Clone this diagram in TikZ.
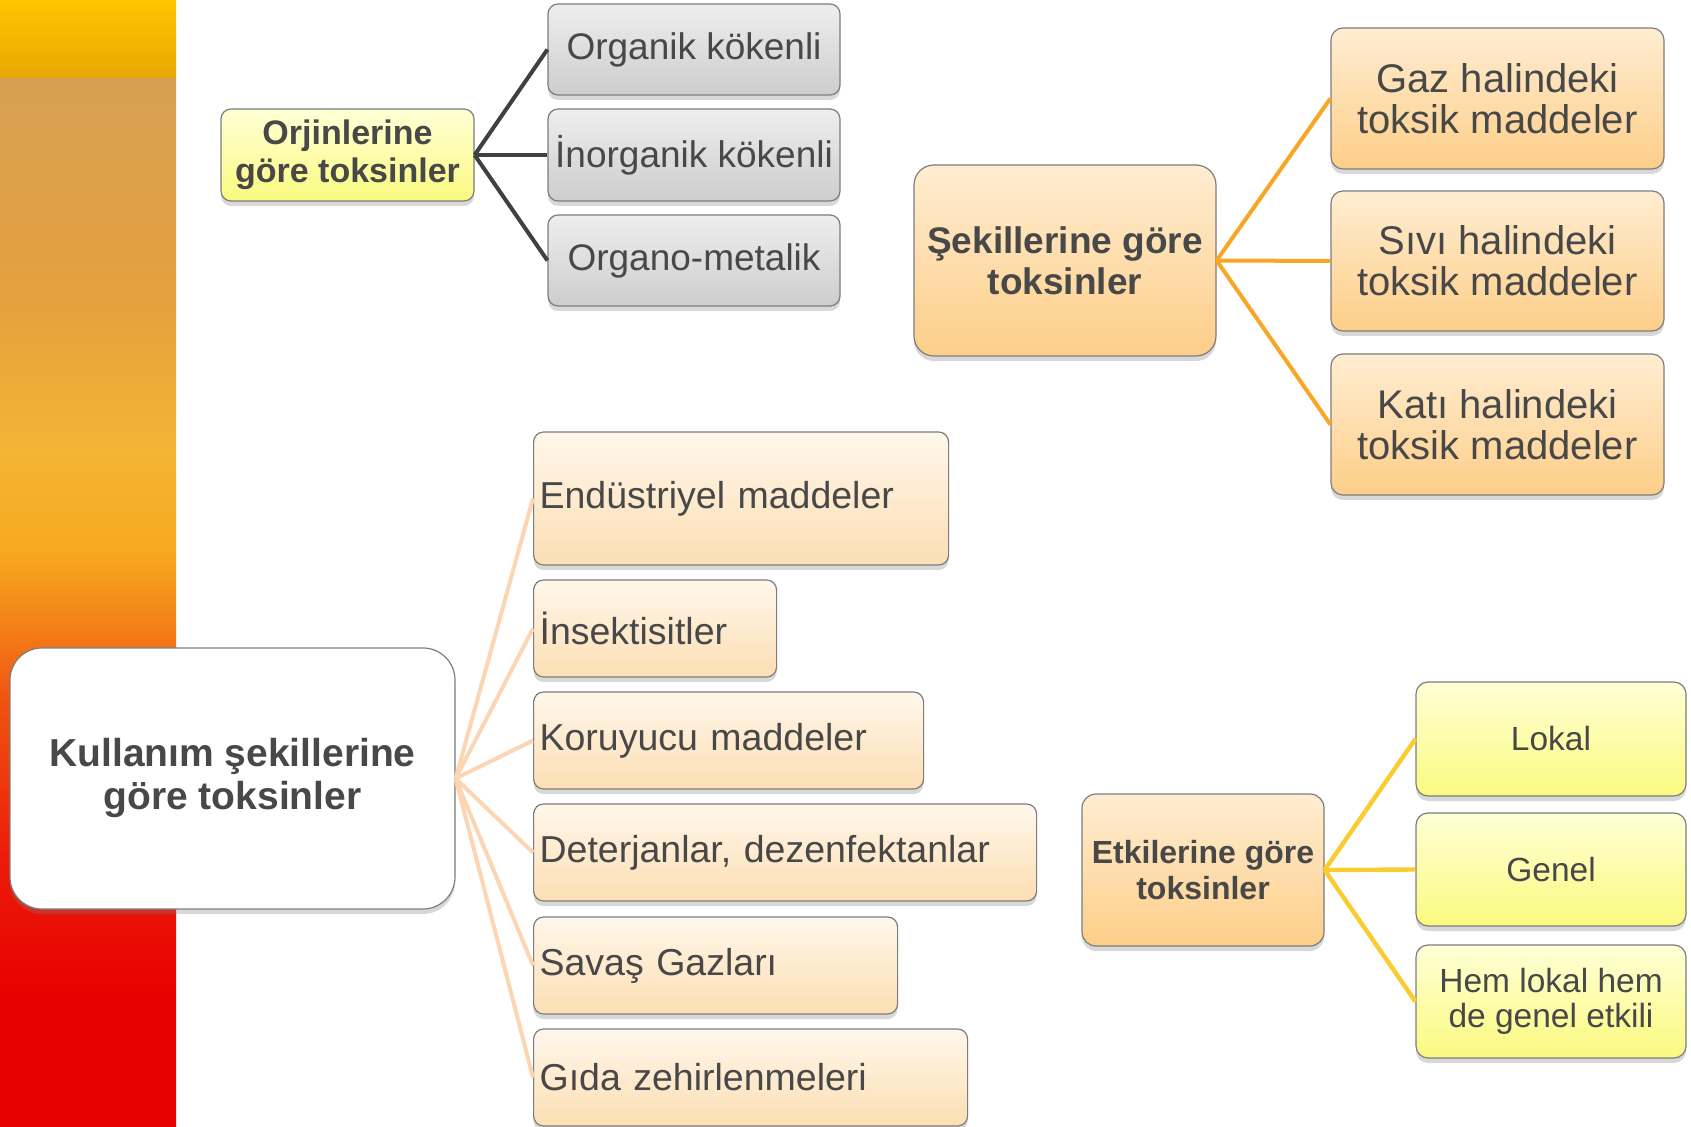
\documentclass[tikz,border=0pt]{standalone}
\usepackage{fontspec}
\setmainfont{Liberation Sans}
\usetikzlibrary{shadows}
\definecolor{txt}{RGB}{72,72,72}
\definecolor{bordergray}{RGB}{125,125,125}
\definecolor{cdark}{RGB}{64,64,64}
\definecolor{corange}{RGB}{247,167,36}
\definecolor{cpeach}{RGB}{252,214,180}
\definecolor{cyellow}{RGB}{250,204,48}
\definecolor{ytop}{RGB}{255,255,214}
\definecolor{ybot}{RGB}{250,250,128}
\definecolor{gtop}{RGB}{238,238,238}
\definecolor{gbot}{RGB}{205,205,205}
\definecolor{otop}{RGB}{255,237,210}
\definecolor{obot}{RGB}{253,206,136}
\definecolor{ptop}{RGB}{255,247,236}
\definecolor{pbot}{RGB}{252,222,178}
\definecolor{bred}{RGB}{232,0,0}
\definecolor{bredb}{RGB}{236,30,8}
\definecolor{bora}{RGB}{240,84,16}
\definecolor{borb}{RGB}{244,132,24}
\definecolor{bgolda}{RGB}{246,170,32}
\definecolor{bgoldb}{RGB}{244,180,52}
\definecolor{btanb}{RGB}{230,160,62}
\definecolor{btana}{RGB}{214,160,82}
\definecolor{bandtop}{RGB}{255,198,0}
\definecolor{bandbot}{RGB}{232,168,0}
\pgfdeclareverticalshading{barshade}{100bp}{color(0bp)=(bred); color(25bp)=(bred); color(31bp)=(bred); color(38.2bp)=(bredb); color(45.4bp)=(bora); color(49.2bp)=(borb); color(52.5bp)=(bgolda); color(57.3bp)=(bgoldb); color(64.4bp)=(btanb); color(75bp)=(btana); color(100bp)=(btana)}
\newcommand{\fsz}[2]{\fontsize{#1pt}{#2pt}\selectfont}
\tikzset{
  box/.style={draw=bordergray, line width=0.6pt, text=txt, align=center, inner sep=2pt,
    drop shadow={shadow xshift=0pt, shadow yshift=-2.5pt, opacity=0.3}},
  yellowbox/.style={top color=ytop, bottom color=ybot},
  graybox/.style={top color=gtop, bottom color=gbot},
  orangebox/.style={top color=otop, bottom color=obot},
  peachbox/.style={top color=ptop, bottom color=pbot},
  itembox/.style={box, peachbox, rounded corners=5pt, anchor=west, align=left, inner xsep=3pt,
    font=\fsz{18.75}{21}},
  cdk/.style={draw=cdark, line width=2pt},
  cor/.style={draw=corange, line width=2pt},
  cpe/.style={draw=cpeach, line width=2pt},
  cye/.style={draw=cyellow, line width=2.2pt},
}
\begin{document}
\begin{tikzpicture}[x=0.5pt,y=-0.5pt]
\useasboundingbox (0,0) rectangle (1691,1127);
\fill[white] (0,0) rectangle (1691,1127);
% left bar
\shade[shading=barshade] (0,78) rectangle (176,1127);
\shade[top color=bandtop, bottom color=bandbot] (0,0) rectangle (176,78);

% Orjinlerine
\node[box, yellowbox, rounded corners=5pt, minimum width=126.5pt, minimum height=46pt, font=\bfseries\fsz{17}{19}] (orj) at (347.5,155) {Orjinlerine\\göre toksinler};
\node[box, graybox, rounded corners=5pt, minimum width=146pt, minimum height=45.5pt, font=\fsz{18.5}{20}] (org1) at (694,49.5) {Organik kökenli};
\node[box, graybox, rounded corners=5pt, minimum width=146pt, minimum height=46pt, font=\fsz{18.5}{20}] (org2) at (694,155) {İnorganik kökenli};
\node[box, graybox, rounded corners=5pt, minimum width=146pt, minimum height=45.5pt, font=\fsz{18.5}{20}] (org3) at (694,260.5) {Organo-metalik};

% Sekillerine
\node[box, orangebox, rounded corners=10pt, minimum width=151pt, minimum height=95.5pt, font=\bfseries\fsz{18.5}{20.5}] (sek) at (1065,260.5) {Şekillerine göre\\toksinler};
\node[box, orangebox, rounded corners=6pt, minimum width=166.5pt, minimum height=70.5pt, font=\fsz{20}{20.5}] (gaz) at (1497.5,98.5) {Gaz halindeki\\toksik maddeler};
\node[box, orangebox, rounded corners=6pt, minimum width=166.5pt, minimum height=70pt, font=\fsz{20}{20.5}] (siv) at (1497.5,261) {Sıvı halindeki\\toksik maddeler};
\node[box, orangebox, rounded corners=6pt, minimum width=166.5pt, minimum height=70.5pt, font=\fsz{20}{20.5}] (kat) at (1497.5,424.5) {Katı halindeki\\toksik maddeler};

% Kullanim
\node[box, fill=white, rounded corners=16pt, minimum width=222.5pt, minimum height=130.5pt, font=\bfseries\fsz{19.5}{21.5}] (kul) at (232.5,778.5) {Kullanım şekillerine\\göre toksinler};
\node[itembox, minimum height=66.5pt, text width=201.5pt] (end) at (533,498.5) {Endüstriyel maddeler};
\node[itembox, minimum height=48.5pt, text width=115.5pt] (ins) at (533,628.5) {İnsektisitler};
\node[itembox, minimum height=48.5pt, text width=189pt] (kor) at (533,740.5) {Koruyucu maddeler};
\node[itembox, minimum height=48.5pt, text width=245.5pt] (det) at (533,852.5) {Deterjanlar, dezenfektanlar};
\node[itembox, minimum height=48.5pt, text width=176pt] (sav) at (533,965.5) {Savaş Gazları};
\node[itembox, minimum height=48.5pt, text width=211pt] (gid) at (533,1077.5) {Gıda zehirlenmeleri};

% Etkilerine
\node[box, orangebox, rounded corners=7pt, minimum width=121pt, minimum height=76pt, font=\bfseries\fsz{16}{18}] (etk) at (1203,870) {Etkilerine göre\\toksinler};
\node[box, yellowbox, rounded corners=6pt, minimum width=135pt, minimum height=57pt, font=\fsz{16.75}{17.5}] (lok) at (1551,739) {Lokal};
\node[box, yellowbox, rounded corners=6pt, minimum width=135pt, minimum height=56.5pt, font=\fsz{16.75}{17.5}] (gen) at (1551,869.5) {Genel};
\node[box, yellowbox, rounded corners=6pt, minimum width=135pt, minimum height=56.5pt, font=\fsz{16.75}{17.5}] (hem) at (1551,1001.5) {Hem lokal hem\\de genel etkili};

% connectors
\draw[cdk] (orj.east) -- (org1.west);
\draw[cdk] (orj.east) -- (org2.west);
\draw[cdk] (orj.east) -- (org3.west);
\draw[cor] (sek.east) -- (gaz.west);
\draw[cor] (sek.east) -- (siv.west);
\draw[cor] (sek.east) -- (kat.west);
\foreach \t in {end,ins,kor,det,sav,gid}{\draw[cpe] (kul.east) -- (\t.west);}
\draw[cye] (etk.east) -- (lok.west);
\draw[cye] (etk.east) -- (gen.west);
\draw[cye] (etk.east) -- (hem.west);
\end{tikzpicture}
\end{document}
